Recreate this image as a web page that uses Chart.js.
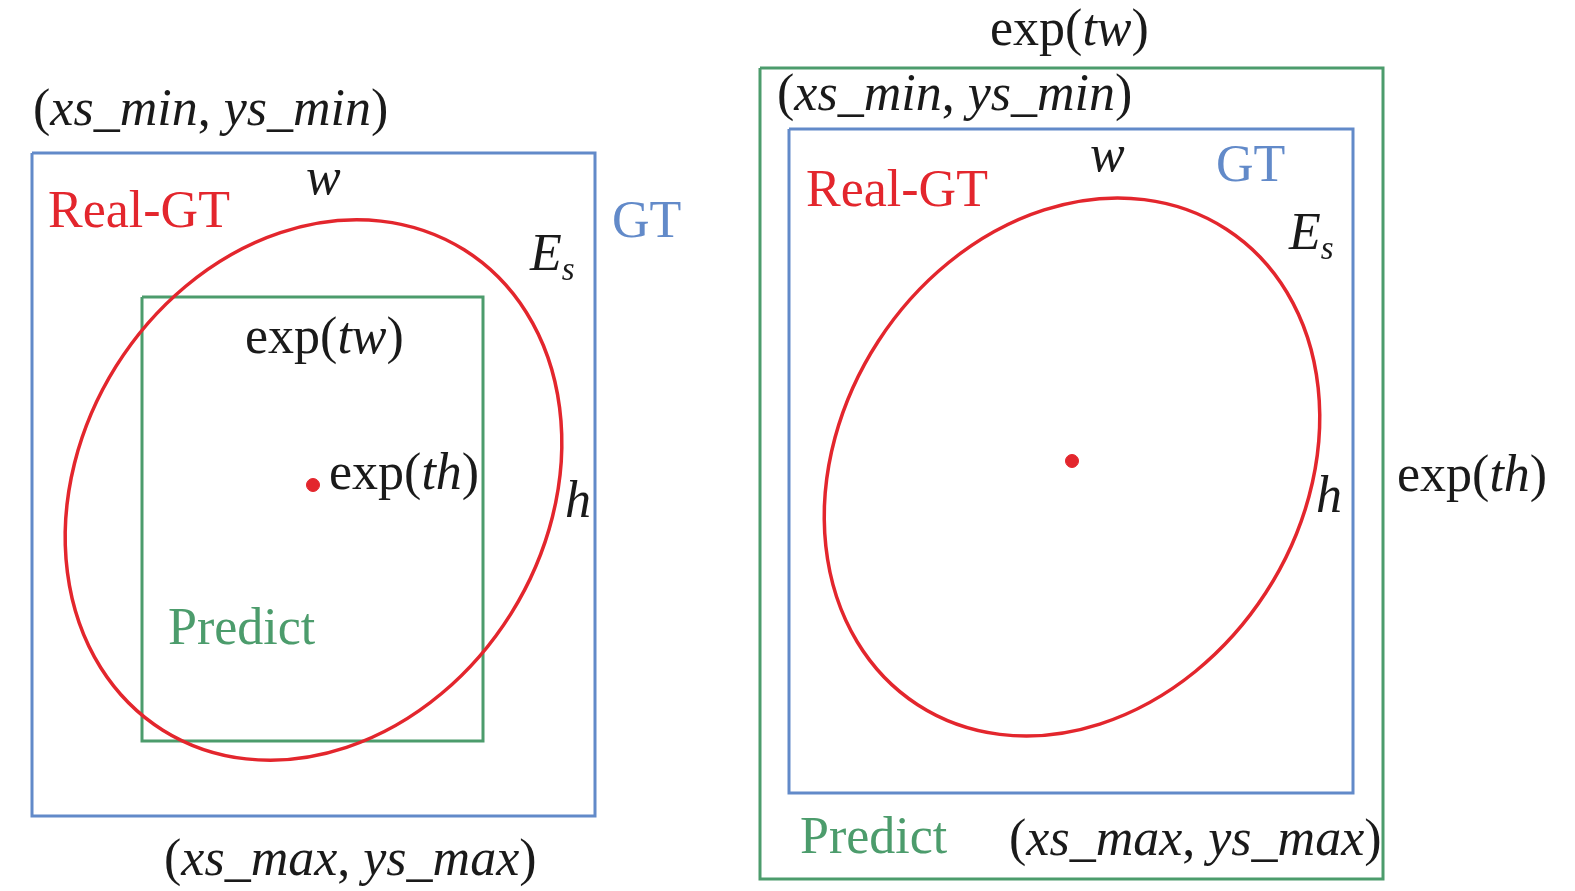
<!DOCTYPE html>
<html>
<head>
<meta charset="utf-8">
<script src="https://cdn.jsdelivr.net/npm/chart.js@4/dist/chart.umd.min.js"></script>
<style>
  html, body { margin: 0; padding: 0; background: #ffffff; }
  canvas { display: block; }
</style>
</head>
<body>
<canvas id="diagram" width="1575" height="891"></canvas>
<script>
// -------------------- DATA (picture pixel units) --------------------
// boxes as [left, top, right, bottom]
const gtBoxes = [[32, 153, 595, 816], [789, 129, 1353, 793]];
const predictBoxes = [[142, 297, 483, 741], [760, 68, 1383, 879]];

// Real-GT ellipses: centre, semi axes, tilt of the long axis (degrees, up-right)
const ellipseCenters = [[313.5, 490], [1072, 467]];
const ellipseAxes = [[283.5, 233], [283.5, 231]];
const ellipseTilt = [57.9, 57.0];

const centerDots = [[313, 485], [1072, 461]];

// labels: text pieces, "r" roman, "i" italic, "s" italic subscript
const labelParts = [
  [["(", "r"], ["xs_min", "i"], [", ", "r"], ["ys_min", "i"], [")", "r"]],
  [["w", "i"]],
  [["Real-GT", "r"]],
  [["GT", "r"]],
  [["E", "i"], ["s", "s"]],
  [["exp(", "r"], ["tw", "i"], [")", "r"]],
  [["exp(", "r"], ["th", "i"], [")", "r"]],
  [["h", "i"]],
  [["Predict", "r"]],
  [["(", "r"], ["xs_max", "i"], [", ", "r"], ["ys_max", "i"], [")", "r"]],

  [["exp(", "r"], ["tw", "i"], [")", "r"]],
  [["(", "r"], ["xs_min", "i"], [", ", "r"], ["ys_min", "i"], [")", "r"]],
  [["w", "i"]],
  [["GT", "r"]],
  [["Real-GT", "r"]],
  [["E", "i"], ["s", "s"]],
  [["h", "i"]],
  [["exp(", "r"], ["th", "i"], [")", "r"]],
  [["Predict", "r"]],
  [["(", "r"], ["xs_max", "i"], [", ", "r"], ["ys_max", "i"], [")", "r"]]
];
// left x and baseline y of each label
const labelX = [33, 306, 48, 612, 530, 245, 329, 565, 168, 164,
                990, 777, 1090, 1216, 806, 1289, 1316, 1397, 800, 1009];
const labelY = [125, 194, 227, 237, 270, 353, 489, 517, 644, 875,
                45, 110, 171, 181, 206, 249, 512, 491, 853, 855];
const labelKind = ["black", "black", "red", "blue", "black", "black", "black", "black", "green", "black",
                   "black", "black", "black", "blue", "red", "black", "black", "black", "green", "black"];

const COLORS = {
  black: "#1a1a1a",
  red: "#e3262d",
  blue: "#628ac9",
  green: "#4c9c6c"
};

// -------------------- DATASETS --------------------
function boxPoints(b) {
  return [
    { x: b[0], y: b[1] }, { x: b[2], y: b[1] },
    { x: b[2], y: b[3] }, { x: b[0], y: b[3] },
    { x: b[0], y: b[1] }
  ];
}

const datasets = [];

gtBoxes.forEach((b) => {
  datasets.push({
    type: "line",
    data: boxPoints(b),
    borderColor: COLORS.blue,
    borderWidth: 3,
    pointRadius: 0,
    fill: false,
    tension: 0
  });
});

predictBoxes.forEach((b) => {
  datasets.push({
    type: "line",
    data: boxPoints(b),
    borderColor: COLORS.green,
    borderWidth: 3,
    pointRadius: 0,
    fill: false,
    tension: 0
  });
});

datasets.push({
  type: "scatter",
  data: centerDots.map((d) => ({ x: d[0], y: d[1] })),
  backgroundColor: COLORS.red,
  borderColor: COLORS.red,
  pointRadius: 6.5,
  pointHoverRadius: 6.5
});

// -------------------- PLUGINS --------------------
const ellipsePlugin = {
  id: "ellipses",
  afterDatasetsDraw(chart) {
    const ctx = chart.ctx;
    const xs = chart.scales.x;
    const ys = chart.scales.y;
    ctx.save();
    ctx.strokeStyle = COLORS.red;
    ctx.lineWidth = 3.5;
    ellipseCenters.forEach((c, i) => {
      const px = xs.getPixelForValue(c[0]);
      const py = ys.getPixelForValue(c[1]);
      const ra = Math.abs(xs.getPixelForValue(c[0] + ellipseAxes[i][0]) - px);
      const rb = Math.abs(xs.getPixelForValue(c[0] + ellipseAxes[i][1]) - px);
      ctx.beginPath();
      ctx.ellipse(px, py, ra, rb, -ellipseTilt[i] * Math.PI / 180, 0, Math.PI * 2);
      ctx.stroke();
    });
    ctx.restore();
  }
};

const labelPlugin = {
  id: "labels",
  afterDraw(chart) {
    const ctx = chart.ctx;
    const xs = chart.scales.x;
    const ys = chart.scales.y;
    ctx.save();
    ctx.textBaseline = "alphabetic";
    ctx.textAlign = "left";
    labelParts.forEach((parts, i) => {
      let px = xs.getPixelForValue(labelX[i]);
      const py = ys.getPixelForValue(labelY[i]);
      ctx.fillStyle = COLORS[labelKind[i]];
      parts.forEach(([text, style]) => {
        let dy = 0;
        if (style === "i") {
          ctx.font = "italic 52px 'Liberation Serif'";
        } else if (style === "s") {
          ctx.font = "italic 33px 'Liberation Serif'";
          dy = 10;
        } else {
          ctx.font = "52px 'Liberation Serif'";
        }
        ctx.fillText(text, px, py + dy);
        px += ctx.measureText(text).width;
      });
    });
    ctx.restore();
  }
};

// -------------------- CHART --------------------
new Chart(document.getElementById("diagram"), {
  type: "scatter",
  data: { datasets },
  options: {
    responsive: false,
    animation: false,
    events: [],
    layout: { padding: 0, autoPadding: false },
    plugins: {
      legend: { display: false },
      tooltip: { enabled: false }
    },
    scales: {
      x: { type: "linear", min: 0, max: 1575, display: false },
      y: { type: "linear", min: 0, max: 891, reverse: true, display: false }
    }
  },
  plugins: [ellipsePlugin, labelPlugin]
});
</script>
</body>
</html>
